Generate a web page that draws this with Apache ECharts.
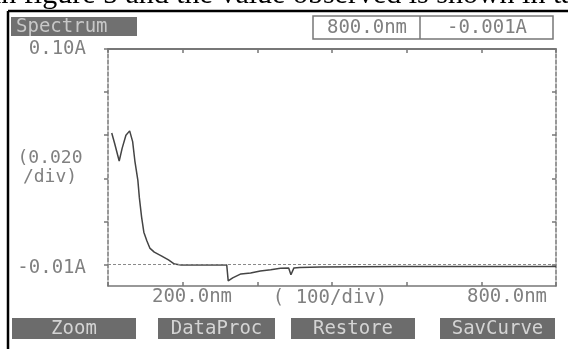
<!DOCTYPE html>
<html><head><meta charset="utf-8">
<script src="https://cdn.jsdelivr.net/npm/echarts@6/dist/echarts.min.js"></script>
<style>html,body{margin:0;padding:0;background:#fff}#c{width:568px;height:349px}</style>
</head><body><div id="c"></div>
<script>
// Data
const wavelengths = [205,209,215,219,224,229,233,236,240,242,245,248,252,256,262,272,281,289,298,359,361,367,378,391,404,418,431,442,445,449,457,484,590,700,800];
const absorbance = [0.061,0.056,0.048,0.054,0.060,0.062,0.057,0.048,0.039,0.031,0.022,0.015,0.011,0.0076,0.0057,0.0039,0.0021,0.0002,-0.0002,-0.0002,-0.0076,-0.0062,-0.0044,-0.004,-0.003,-0.0025,-0.0018,-0.0016,-0.0048,-0.0016,-0.0014,-0.0012,-0.001,-0.001,-0.001];
const xLabelValues = [200, 800];
const xLabels = ['200.0nm', '800.0nm'];
const yLabelValues = [-0.01, 0.10];
const yLabels = ['-0.01A', '0.10A'];
const yTickValues = [0, 0.02, 0.04, 0.06, 0.08, 0.10];
const baselineValue = 0;
const readoutWavelength = '800.0nm';
const readoutAbs = '-0.001A';
const buttons = ['Zoom', 'DataProc', 'Restore', 'SavCurve'];

const MONOF = '"DejaVu Sans Mono", "Liberation Mono", monospace';
const MONO = MONOF;
const GRAY = '#808080';
const AX = '#777777';

const chart = echarts.init(document.getElementById('c'), null, {renderer: 'canvas'});
const btnX = [12, 158, 291, 440];
const btnW = [124, 117, 124, 115];
const graphics = [
  {type: 'text', x: -7, y: 10, style: {text: 'in figure 5 and the value observed is shown in table', font: '30px "Liberation Serif", "Times New Roman", serif', fill: '#000', verticalAlign: 'bottom'}},
  {type: 'line', shape: {x1: 8, y1: 11, x2: 568, y2: 11}, style: {stroke: '#000', lineWidth: 2.5}},
  {type: 'line', shape: {x1: 8, y1: 11, x2: 8, y2: 349}, style: {stroke: '#000', lineWidth: 2.5}},
  {type: 'rect', shape: {x: 11, y: 17, width: 126, height: 19}, style: {fill: '#707070'}},
  {type: 'text', x: 16, y: 27, style: {text: 'Spectrum', font: '19px ' + MONO, fill: '#c8c8c8', verticalAlign: 'middle'}},
  {type: 'rect', shape: {x: 313, y: 16, width: 240, height: 23}, style: {fill: 'none', stroke: '#777', lineWidth: 1.5}},
  {type: 'line', shape: {x1: 420, y1: 16, x2: 420, y2: 39}, style: {stroke: '#777', lineWidth: 1.5}},
  {type: 'text', x: 367, y: 28, style: {text: readoutWavelength, font: '19px ' + MONO, fill: GRAY, align: 'center', verticalAlign: 'middle'}},
  {type: 'text', x: 487, y: 28, style: {text: readoutAbs, font: '19px ' + MONO, fill: GRAY, align: 'center', verticalAlign: 'middle'}},
  {type: 'text', x: 50, y: 158, style: {text: '(0.020', font: '18px ' + MONO, fill: GRAY, align: 'center', verticalAlign: 'middle'}},
  {type: 'text', x: 50, y: 177, style: {text: '/div)', font: '18px ' + MONO, fill: GRAY, align: 'center', verticalAlign: 'middle'}},
  {type: 'text', x: 330, y: 298, style: {text: '( 100/div)', font: '19px ' + MONO, fill: GRAY, align: 'center', verticalAlign: 'middle'}}
];
buttons.forEach((b, i) => {
  graphics.push({type: 'rect', shape: {x: btnX[i], y: 318, width: btnW[i], height: 21}, style: {fill: '#6c6c6c'}});
  graphics.push({type: 'text', x: btnX[i] + btnW[i] / 2, y: 329, style: {text: b, font: '19px ' + MONO, fill: '#d4d4d4', align: 'center', verticalAlign: 'middle'}});
});

const richBase = {fontSize: 19, fontFamily: MONOF, color: GRAY};

chart.setOption({
  backgroundColor: '#ffffff',
  animation: false,
  grid: {left: 108, right: 12, top: 49, bottom: 63, containLabel: false},
  xAxis: [{
    type: 'value', min: 200, max: 800, interval: 100, position: 'bottom',
    axisLine: {show: true, onZero: false, lineStyle: {color: AX, width: 1.5}},
    axisTick: {show: true, inside: true, length: 4, lineStyle: {color: AX, width: 1.5}},
    splitLine: {show: false},
    axisLabel: {
      customValues: xLabelValues, margin: 2,
      formatter: v => v === 200 ? '{a|' + xLabels[0] + '}' : '{b|' + xLabels[1] + '}',
      rich: {
        a: Object.assign({}, richBase, {padding: [0, 0, 0, 168]}),
        b: Object.assign({}, richBase, {padding: [0, 98, 0, 0]})
      }
    }
  }, {
    type: 'value', min: 200, max: 800, interval: 100, position: 'top',
    axisLine: {show: true, onZero: false, lineStyle: {color: AX, width: 1.8}},
    axisTick: {show: true, inside: true, length: 4, lineStyle: {color: AX, width: 1.5}},
    splitLine: {show: false}, axisLabel: {show: false}
  }],
  yAxis: [{
    type: 'value', min: -0.01, max: 0.10, position: 'left',
    axisLine: {show: true, onZero: false, lineStyle: {color: AX, width: 1.5, type: [4, 2]}},
    axisTick: {show: true, inside: false, length: 4, customValues: yTickValues, lineStyle: {color: AX, width: 1.5}},
    splitLine: {show: false},
    axisLabel: {
      customValues: yLabelValues, margin: 22,
      formatter: v => v < 0 ? '{a|' + yLabels[0] + '}' : '{b|' + yLabels[1] + '}',
      rich: {
        a: Object.assign({}, richBase, {padding: [0, 0, 36, 0]}),
        b: Object.assign({}, richBase, {padding: [0, 0, 0, 0]})
      }
    }
  }, {
    type: 'value', min: -0.01, max: 0.10, position: 'right',
    axisLine: {show: true, onZero: false, lineStyle: {color: AX, width: 1.5, type: [4, 2]}},
    axisTick: {show: true, inside: true, length: 4, customValues: yTickValues, lineStyle: {color: AX, width: 1.5}},
    splitLine: {show: false}, axisLabel: {show: false}
  }],
  series: [{
    type: 'line', xAxisIndex: 0, yAxisIndex: 0,
    data: wavelengths.map((w, i) => [w, absorbance[i]]),
    showSymbol: false, symbol: 'none',
    lineStyle: {color: '#444444', width: 1.5},
    markLine: {
      silent: true, symbol: 'none', label: {show: false},
      lineStyle: {color: '#8a8a8a', type: [3, 2], width: 1.2},
      data: [{yAxis: baselineValue}]
    }
  }],
  graphic: graphics
});
</script></body></html>
